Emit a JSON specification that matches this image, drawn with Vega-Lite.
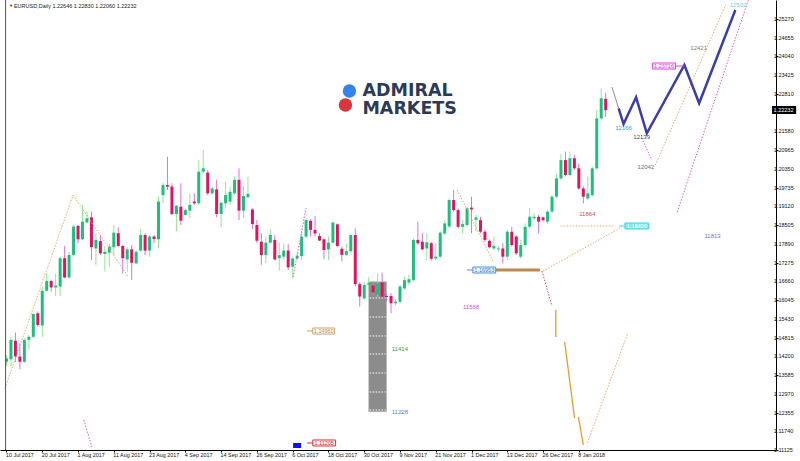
{
 "$schema": "https://vega.github.io/schema/vega-lite/v6.json",
 "width": 776,
 "height": 450,
 "autosize": {"type": "none"},
 "padding": {"left": 0, "top": 0, "right": 24, "bottom": 11},
 "background": "#ffffff",
 "config": {"view": {"stroke": null}, "axis": {"grid": false, "labelFont": "Liberation Sans", "title": null, "labelOverlap": false, "labelBound": false, "labelFlush": false}, "text": {"font": "Liberation Sans"}},
 "resolve": {"scale": {"color": "independent", "fill": "independent", "stroke": "independent"}},
 "datasets": {
  "candles": [
   {"i":0,"o":1.1402,"h":1.1424,"l":1.1388,"c":1.1413},
   {"i":1,"o":1.1410,"h":1.1484,"l":1.1388,"c":1.1474},
   {"i":2,"o":1.1471,"h":1.1498,"l":1.1402,"c":1.1419},
   {"i":3,"o":1.1419,"h":1.1463,"l":1.1377,"c":1.1402},
   {"i":4,"o":1.1402,"h":1.1479,"l":1.1399,"c":1.1474},
   {"i":5,"o":1.1474,"h":1.1490,"l":1.1441,"c":1.1484},
   {"i":6,"o":1.1484,"h":1.1561,"l":1.1479,"c":1.1559},
   {"i":7,"o":1.1561,"h":1.1567,"l":1.1517,"c":1.1523},
   {"i":8,"o":1.1521,"h":1.1649,"l":1.1484,"c":1.1635},
   {"i":9,"o":1.1635,"h":1.1692,"l":1.1632,"c":1.1667},
   {"i":10,"o":1.1667,"h":1.1670,"l":1.1632,"c":1.1646},
   {"i":11,"o":1.1646,"h":1.1692,"l":1.1618,"c":1.1652},
   {"i":12,"o":1.1649,"h":1.1747,"l":1.1618,"c":1.1742},
   {"i":13,"o":1.1742,"h":1.1782,"l":1.1676,"c":1.1679},
   {"i":14,"o":1.1679,"h":1.1763,"l":1.1673,"c":1.1753},
   {"i":15,"o":1.1753,"h":1.1851,"l":1.1747,"c":1.1846},
   {"i":16,"o":1.1848,"h":1.1851,"l":1.1791,"c":1.1804},
   {"i":17,"o":1.1804,"h":1.1917,"l":1.1802,"c":1.1862},
   {"i":18,"o":1.1859,"h":1.1895,"l":1.1856,"c":1.1873},
   {"i":19,"o":1.1876,"h":1.1895,"l":1.1736,"c":1.1778},
   {"i":20,"o":1.1774,"h":1.1824,"l":1.1720,"c":1.1802},
   {"i":21,"o":1.1798,"h":1.1818,"l":1.1752,"c":1.1758},
   {"i":22,"o":1.1756,"h":1.1782,"l":1.1698,"c":1.1763},
   {"i":23,"o":1.1760,"h":1.1789,"l":1.1714,"c":1.1780},
   {"i":24,"o":1.1778,"h":1.1851,"l":1.1752,"c":1.1826},
   {"i":25,"o":1.1824,"h":1.1843,"l":1.1780,"c":1.1782},
   {"i":26,"o":1.1782,"h":1.1785,"l":1.1692,"c":1.1742},
   {"i":27,"o":1.1738,"h":1.1778,"l":1.1698,"c":1.1771},
   {"i":28,"o":1.1771,"h":1.1785,"l":1.1670,"c":1.1727},
   {"i":29,"o":1.1725,"h":1.1769,"l":1.1723,"c":1.1763},
   {"i":30,"o":1.1767,"h":1.1837,"l":1.1763,"c":1.1818},
   {"i":31,"o":1.1818,"h":1.1824,"l":1.1752,"c":1.1767},
   {"i":32,"o":1.1767,"h":1.1818,"l":1.1747,"c":1.1813},
   {"i":33,"o":1.1813,"h":1.1818,"l":1.1791,"c":1.1805},
   {"i":34,"o":1.1804,"h":1.1944,"l":1.1774,"c":1.1928},
   {"i":35,"o":1.1949,"h":1.1988,"l":1.1922,"c":1.1982},
   {"i":36,"o":1.1982,"h":1.2075,"l":1.1966,"c":1.1977},
   {"i":37,"o":1.1977,"h":1.1988,"l":1.1884,"c":1.1887},
   {"i":38,"o":1.1887,"h":1.1917,"l":1.1829,"c":1.1914},
   {"i":39,"o":1.1911,"h":1.1988,"l":1.1851,"c":1.1865},
   {"i":40,"o":1.1884,"h":1.1906,"l":1.1882,"c":1.1900},
   {"i":41,"o":1.1898,"h":1.1955,"l":1.1873,"c":1.1917},
   {"i":42,"o":1.1928,"h":1.1955,"l":1.1917,"c":1.1922},
   {"i":43,"o":1.1922,"h":1.2064,"l":1.1917,"c":1.2026},
   {"i":44,"o":1.2026,"h":1.2097,"l":1.2020,"c":1.2037},
   {"i":45,"o":1.2023,"h":1.2031,"l":1.1949,"c":1.1955},
   {"i":46,"o":1.1955,"h":1.1977,"l":1.1949,"c":1.1971},
   {"i":47,"o":1.1968,"h":1.1999,"l":1.1876,"c":1.1887},
   {"i":48,"o":1.1887,"h":1.1928,"l":1.1843,"c":1.1924},
   {"i":49,"o":1.1922,"h":1.1993,"l":1.1906,"c":1.1949},
   {"i":50,"o":1.1928,"h":1.1977,"l":1.1917,"c":1.1960},
   {"i":51,"o":1.1955,"h":1.2010,"l":1.1949,"c":1.1999},
   {"i":52,"o":1.1999,"h":1.2037,"l":1.1867,"c":1.1898},
   {"i":53,"o":1.1898,"h":1.1977,"l":1.1873,"c":1.1946},
   {"i":54,"o":1.1942,"h":1.2010,"l":1.1940,"c":1.1953},
   {"i":55,"o":1.1902,"h":1.1906,"l":1.1837,"c":1.1854},
   {"i":56,"o":1.1851,"h":1.1867,"l":1.1791,"c":1.1799},
   {"i":57,"o":1.1796,"h":1.1824,"l":1.1720,"c":1.1752},
   {"i":58,"o":1.1752,"h":1.1813,"l":1.1725,"c":1.1793},
   {"i":59,"o":1.1793,"h":1.1837,"l":1.1789,"c":1.1818},
   {"i":60,"o":1.1802,"h":1.1818,"l":1.1734,"c":1.1738},
   {"i":61,"o":1.1742,"h":1.1793,"l":1.1701,"c":1.1752},
   {"i":62,"o":1.1747,"h":1.1791,"l":1.1738,"c":1.1767},
   {"i":63,"o":1.1767,"h":1.1789,"l":1.1703,"c":1.1712},
   {"i":64,"o":1.1714,"h":1.1747,"l":1.1676,"c":1.1741},
   {"i":65,"o":1.1741,"h":1.1760,"l":1.1735,"c":1.1749},
   {"i":66,"o":1.1749,"h":1.1826,"l":1.1736,"c":1.1813},
   {"i":67,"o":1.1813,"h":1.1873,"l":1.1807,"c":1.1867},
   {"i":68,"o":1.1865,"h":1.1870,"l":1.1813,"c":1.1835},
   {"i":69,"o":1.1835,"h":1.1880,"l":1.1813,"c":1.1823},
   {"i":70,"o":1.1815,"h":1.1824,"l":1.1798,"c":1.1800},
   {"i":71,"o":1.1804,"h":1.1807,"l":1.1739,"c":1.1769},
   {"i":72,"o":1.1771,"h":1.1813,"l":1.1736,"c":1.1793},
   {"i":73,"o":1.1793,"h":1.1862,"l":1.1791,"c":1.1859},
   {"i":74,"o":1.1853,"h":1.1856,"l":1.1778,"c":1.1782},
   {"i":75,"o":1.1773,"h":1.1780,"l":1.1731,"c":1.1753},
   {"i":76,"o":1.1753,"h":1.1791,"l":1.1749,"c":1.1765},
   {"i":77,"o":1.1765,"h":1.1821,"l":1.1758,"c":1.1818},
   {"i":78,"o":1.1818,"h":1.1840,"l":1.1649,"c":1.1657},
   {"i":79,"o":1.1657,"h":1.1662,"l":1.1583,"c":1.1616},
   {"i":80,"o":1.1610,"h":1.1665,"l":1.1605,"c":1.1654},
   {"i":81,"o":1.1655,"h":1.1680,"l":1.1640,"c":1.1660},
   {"i":82,"o":1.1652,"h":1.1665,"l":1.1620,"c":1.1630},
   {"i":83,"o":1.1622,"h":1.1692,"l":1.1615,"c":1.1659},
   {"i":84,"o":1.1662,"h":1.1695,"l":1.1610,"c":1.1616},
   {"i":85,"o":1.1618,"h":1.1625,"l":1.1600,"c":1.1615},
   {"i":86,"o":1.1618,"h":1.1627,"l":1.1561,"c":1.1594},
   {"i":87,"o":1.1594,"h":1.1607,"l":1.1588,"c":1.1599},
   {"i":88,"o":1.1599,"h":1.1654,"l":1.1594,"c":1.1649},
   {"i":89,"o":1.1643,"h":1.1681,"l":1.1638,"c":1.1670},
   {"i":90,"o":1.1662,"h":1.1687,"l":1.1654,"c":1.1673},
   {"i":91,"o":1.1670,"h":1.1807,"l":1.1665,"c":1.1802},
   {"i":92,"o":1.1802,"h":1.1862,"l":1.1785,"c":1.1791},
   {"i":93,"o":1.1796,"h":1.1824,"l":1.1769,"c":1.1771},
   {"i":94,"o":1.1774,"h":1.1824,"l":1.1736,"c":1.1794},
   {"i":95,"o":1.1791,"h":1.1796,"l":1.1734,"c":1.1740},
   {"i":96,"o":1.1741,"h":1.1791,"l":1.1736,"c":1.1747},
   {"i":97,"o":1.1747,"h":1.1829,"l":1.1741,"c":1.1826},
   {"i":98,"o":1.1823,"h":1.1867,"l":1.1818,"c":1.1856},
   {"i":99,"o":1.1846,"h":1.1938,"l":1.1840,"c":1.1933},
   {"i":100,"o":1.1933,"h":1.1966,"l":1.1895,"c":1.1900},
   {"i":101,"o":1.1900,"h":1.1906,"l":1.1840,"c":1.1845},
   {"i":102,"o":1.1845,"h":1.1867,"l":1.1824,"c":1.1854},
   {"i":103,"o":1.1851,"h":1.1911,"l":1.1845,"c":1.1906},
   {"i":104,"o":1.1908,"h":1.1944,"l":1.1824,"c":1.1902},
   {"i":105,"o":1.1868,"h":1.1884,"l":1.1829,"c":1.1876},
   {"i":106,"o":1.1867,"h":1.1878,"l":1.1824,"c":1.1829},
   {"i":107,"o":1.1829,"h":1.1835,"l":1.1796,"c":1.1802},
   {"i":108,"o":1.1799,"h":1.1804,"l":1.1774,"c":1.1778},
   {"i":109,"o":1.1774,"h":1.1813,"l":1.1769,"c":1.1782},
   {"i":110,"o":1.1771,"h":1.1782,"l":1.1763,"c":1.1774},
   {"i":111,"o":1.1774,"h":1.1791,"l":1.1725,"c":1.1747},
   {"i":112,"o":1.1747,"h":1.1835,"l":1.1736,"c":1.1829},
   {"i":113,"o":1.1829,"h":1.1845,"l":1.1780,"c":1.1785},
   {"i":114,"o":1.1813,"h":1.1818,"l":1.1752,"c":1.1758},
   {"i":115,"o":1.1747,"h":1.1802,"l":1.1741,"c":1.1785},
   {"i":116,"o":1.1785,"h":1.1856,"l":1.1780,"c":1.1845},
   {"i":117,"o":1.1845,"h":1.1906,"l":1.1840,"c":1.1878},
   {"i":118,"o":1.1873,"h":1.1889,"l":1.1867,"c":1.1878},
   {"i":119,"o":1.1878,"h":1.1884,"l":1.1824,"c":1.1862},
   {"i":120,"o":1.1876,"h":1.1878,"l":1.1862,"c":1.1867},
   {"i":121,"o":1.1862,"h":1.1900,"l":1.1856,"c":1.1895},
   {"i":122,"o":1.1895,"h":1.1949,"l":1.1889,"c":1.1944},
   {"i":123,"o":1.1944,"h":1.2020,"l":1.1938,"c":1.2004},
   {"i":124,"o":1.2004,"h":1.2084,"l":1.1999,"c":1.2064},
   {"i":125,"o":1.2064,"h":1.2092,"l":1.2010,"c":1.2015},
   {"i":126,"o":1.2015,"h":1.2092,"l":1.2010,"c":1.2070},
   {"i":127,"o":1.2070,"h":1.2081,"l":1.2032,"c":1.2037},
   {"i":128,"o":1.2037,"h":1.2053,"l":1.1966,"c":1.1971},
   {"i":129,"o":1.1971,"h":1.1977,"l":1.1922,"c":1.1944},
   {"i":130,"o":1.1938,"h":1.2010,"l":1.1933,"c":1.1955},
   {"i":131,"o":1.1949,"h":1.2042,"l":1.1944,"c":1.2037},
   {"i":132,"o":1.2037,"h":1.2228,"l":1.2032,"c":1.2201},
   {"i":133,"o":1.2201,"h":1.2299,"l":1.2196,"c":1.2267},
   {"i":134,"o":1.2265,"h":1.2285,"l":1.2206,"c":1.2228}
  ],
  "yLevels": [{"p":1.11125},{"p":1.1174},{"p":1.12355},{"p":1.1297},{"p":1.13585},{"p":1.142},{"p":1.14815},{"p":1.1543},{"p":1.16045},{"p":1.1666},{"p":1.17275},{"p":1.1789},{"p":1.18505},{"p":1.1912},{"p":1.19735},{"p":1.2035},{"p":1.20965},{"p":1.2158},{"p":1.2281},{"p":1.23425},{"p":1.2404},{"p":1.24655},{"p":1.2527}],
  "zone": [{"i1":81.0,"i2":85.0,"p1":1.16649,"p2":1.12383}],
  "zoneLevels": [{"p":1.16114},{"p":1.15490},{"p":1.14867},{"p":1.14276},{"p":1.13652},{"p":1.13029},{"p":1.12438}],
  "orangeDotted": [
   {"s":"o1","n":0,"i":-0.33,"p":1.1316},{"s":"o1","n":1,"i":14.9,"p":1.1949},
   {"s":"o2","n":0,"i":14.9,"p":1.1949},{"s":"o2","n":1,"i":27.3,"p":1.1680},
   {"s":"o3","n":0,"i":100.8,"p":1.19658},{"s":"o3","n":1,"i":108.9,"p":1.17295},
   {"s":"o4","n":0,"i":123.95,"p":1.18477},{"s":"o4","n":1,"i":135.65,"p":1.18477},
   {"s":"o5","n":0,"i":120.0,"p":1.16998},{"s":"o5","n":1,"i":137.6,"p":1.18444},
   {"s":"o6","n":0,"i":129.9,"p":1.11355},{"s":"o6","n":1,"i":138.96,"p":1.14965},
   {"s":"o7","n":0,"i":145.1,"p":1.20479},{"s":"o7","n":1,"i":160.8,"p":1.2573}
  ],
  "magentaDotted": [
   {"s":"m1","n":0,"i":150.0,"p":1.18936},{"s":"m1","n":1,"i":165.9,"p":1.25894},
   {"s":"m2","n":0,"i":142.05,"p":1.21365},{"s":"m2","n":1,"i":144.3,"p":1.20643},
   {"s":"m3","n":0,"i":64.1,"p":1.16803},{"s":"m3","n":1,"i":67.0,"p":1.19068},
   {"s":"m4","n":0,"i":17.3,"p":1.1211},{"s":"m4","n":1,"i":19.1,"p":1.11224}
  ],
  "redDotted": [{"s":"r1","n":0,"i":119.76,"p":1.16998},{"s":"r1","n":1,"i":121.97,"p":1.15851}],
  "orangeSolid": [
   {"s":"s1","n":0,"i":122.85,"p":1.1572},{"s":"s1","n":1,"i":122.86,"p":1.14834},
   {"s":"s2","n":0,"i":124.83,"p":1.1467},{"s":"s2","n":1,"i":127.04,"p":1.12176},
   {"s":"s3","n":0,"i":127.9,"p":1.12209},{"s":"s3","n":1,"i":129.0,"p":1.1129}
  ],
  "brownBar": [{"n":0,"i":109.4,"p":1.17033},{"n":1,"i":119.3,"p":1.17033}],
  "lead": [{"n":0,"i":135.4,"p":1.2304},{"n":1,"i":136.9,"p":1.2234}],
  "projection": [
   {"n":0,"i":136.9,"p":1.2234},{"n":1,"i":138.0,"p":1.21824},{"n":2,"i":140.8,"p":1.22701},
   {"n":3,"i":143.2,"p":1.21519},{"n":4,"i":151.6,"p":1.23761},{"n":5,"i":154.9,"p":1.22504},{"n":6,"i":163.0,"p":1.25566}
  ],
  "tags": [
   {"t":"1.16953","k":"blue","i1":104.3,"i2":109.4,"p1":1.17131,"p2":1.16934,"ic":106.85,"pc":1.17033,"ca":103.0},
   {"t":"1.14960","k":"tan","i1":68.5,"i2":73.4,"p1":1.15129,"p2":1.14932,"ic":70.95,"pc":1.15031,"ca":67.2},
   {"t":"1.11205","k":"red","i1":68.5,"i2":73.6,"p1":1.11454,"p2":1.11257,"ic":71.05,"pc":1.11355,"ca":67.2},
   {"t":"1.18420","k":"cyan","i1":138.3,"i2":143.6,"p1":1.18575,"p2":1.18378,"ic":140.95,"pc":1.18477,"ca":137.0},
   {"t":"1.23716","k":"magenta","i1":144.5,"i2":149.6,"p1":1.23826,"p2":1.23629,"ic":147.05,"pc":1.23727,"ca":151.6}
  ],
  "nums": [
   {"t":"11864","i":129.9,"p":1.18861},
   {"t":"11813","i":157.9,"p":1.18158},
   {"t":"11568","i":103.9,"p":1.15828},
   {"t":"11414","i":87.97,"p":1.1444},
   {"t":"11228","i":87.97,"p":1.12363},
   {"t":"12166","i":138.0,"p":1.21683},
   {"t":"12139","i":142.05,"p":1.21408},
   {"t":"12042","i":143.0,"p":1.20423},
   {"t":"12421","i":154.8,"p":1.24329},
   {"t":"12502","i":163.6,"p":1.2573}
  ],
  "marker": [{"i1":64.1,"i2":65.9,"p1":1.11355,"p2":1.11191}],
  "logoDots": [{"k":"blue","i":76.7,"p":1.2291},{"k":"red","i":75.8,"p":1.2245}],
  "logoText": [{"i":79.6,"p":1.22727}],
  "header": [{"t":"EURUSD,Daily  1.22646 1.22830 1.22060 1.22232","i":1.66,"p":1.25697}],
  "headerMark": [{"t":"▼","i":0.55,"p":1.25697}],
  "price": [{"t":"1.22232","i1":171.2,"i2":176.6,"p1":1.22415,"p2":1.22153,"i":171.55,"p":1.22284}],
  "frame": [{"i":-0.2}]
 },
 "layer": [
  {
   "data": {"name": "zone"},
   "mark": {"type": "rect", "fill": "#8c8c8c", "stroke": "#b8b8b8", "strokeWidth": 0.6},
   "encoding": {
    "x": {"field": "i1", "type": "quantitative", "scale": {"domain": [-0.331, 170.97], "nice": false, "zero": false},
     "axis": {"orient": "bottom", "title": null, "values": [0,8,16,24,32,40,48,56,64,72,80,88,96,104,112,120,128],
      "labelExpr": "['10 Jul 2017','20 Jul 2017','1 Aug 2017','11 Aug 2017','23 Aug 2017','4 Sep 2017','14 Sep 2017','26 Sep 2017','6 Oct 2017','18 Oct 2017','30 Oct 2017','9 Nov 2017','21 Nov 2017','1 Dec 2017','13 Dec 2017','26 Dec 2017','8 Jan 2018'][round(datum.value/8)]",
      "domainColor": "#000000", "domainWidth": 1, "tickColor": "#000000", "tickSize": 2, "labelFontSize": 5.4, "labelColor": "#111111",
      "labelAlign": "left", "labelBaseline": "top", "labelPadding": 0.5, "labelOffset": -1, "labelFlush": false, "labelOverlap": false, "labelBound": false}},
    "x2": {"field": "i2"},
    "y": {"field": "p1", "type": "quantitative", "scale": {"domain": [1.11125, 1.25894], "nice": false, "zero": false},
     "axis": {"orient": "right", "title": null, "labels": false,
      "values": [1.11125,1.1174,1.12355,1.1297,1.13585,1.142,1.14815,1.1543,1.16045,1.1666,1.17275,1.1789,1.18505,1.1912,1.19735,1.2035,1.20965,1.2158,1.2281,1.23425,1.2404,1.24655,1.2527],
      "domainColor": "#000000", "domainWidth": 1, "tickColor": "#000000", "tickSize": 2}},
    "y2": {"field": "p2"}
   }
  },
  {
   "data": {"name": "yLevels"},
   "mark": {"type": "text", "fontSize": 5.5, "align": "left", "baseline": "middle", "color": "#111111"},
   "encoding": {"x": {"datum": 171.6, "type": "quantitative"}, "y": {"field": "p", "type": "quantitative"}, "text": {"field": "p", "type": "quantitative", "format": ".5f"}}
  },
  {
   "data": {"name": "zoneLevels"},
   "mark": {"type": "rule", "color": "#ffffff", "strokeWidth": 1, "strokeDash": [1.5, 1.5]},
   "encoding": {"x": {"datum": 81.2, "type": "quantitative"}, "x2": {"datum": 84.8}, "y": {"field": "p", "type": "quantitative"}}
  },
  {
   "data": {"name": "candles"},
   "mark": {"type": "rule", "strokeWidth": 1},
   "encoding": {
    "x": {"field": "i", "type": "quantitative"},
    "y": {"field": "l", "type": "quantitative"},
    "y2": {"field": "h"},
    "color": {"condition": {"test": "datum.c >= datum.o", "value": "#90e890"}, "value": "#de70e2"}
   }
  },
  {
   "data": {"name": "candles"},
   "mark": {"type": "bar", "width": 3},
   "encoding": {
    "x": {"field": "i", "type": "quantitative"},
    "y": {"field": "o", "type": "quantitative"},
    "y2": {"field": "c"},
    "color": {"condition": {"test": "datum.c >= datum.o", "value": "#1cc07e"}, "value": "#e3125c"}
   }
  },
  {
   "data": {"name": "orangeDotted"},
   "mark": {"type": "line", "color": "#eea868", "strokeWidth": 1, "strokeDash": [1.5, 1.5]},
   "encoding": {"x": {"field": "i", "type": "quantitative"}, "y": {"field": "p", "type": "quantitative"}, "detail": {"field": "s"}, "order": {"field": "n"}}
  },
  {
   "data": {"name": "magentaDotted"},
   "mark": {"type": "line", "color": "#d45ae0", "strokeWidth": 1, "strokeDash": [1.5, 1.5]},
   "encoding": {"x": {"field": "i", "type": "quantitative"}, "y": {"field": "p", "type": "quantitative"}, "detail": {"field": "s"}, "order": {"field": "n"}}
  },
  {
   "data": {"name": "redDotted"},
   "mark": {"type": "line", "color": "#e05050", "strokeWidth": 1, "strokeDash": [1.5, 1.5]},
   "encoding": {"x": {"field": "i", "type": "quantitative"}, "y": {"field": "p", "type": "quantitative"}, "detail": {"field": "s"}, "order": {"field": "n"}}
  },
  {
   "data": {"name": "orangeSolid"},
   "mark": {"type": "line", "color": "#eb9a2a", "strokeWidth": 1.3},
   "encoding": {"x": {"field": "i", "type": "quantitative"}, "y": {"field": "p", "type": "quantitative"}, "detail": {"field": "s"}, "order": {"field": "n"}}
  },
  {
   "data": {"name": "brownBar"},
   "mark": {"type": "line", "color": "#c08848", "strokeWidth": 3},
   "encoding": {"x": {"field": "i", "type": "quantitative"}, "y": {"field": "p", "type": "quantitative"}, "order": {"field": "n"}}
  },
  {
   "data": {"name": "lead"},
   "mark": {"type": "line", "color": "#909090", "strokeWidth": 1},
   "encoding": {"x": {"field": "i", "type": "quantitative"}, "y": {"field": "p", "type": "quantitative"}, "order": {"field": "n"}}
  },
  {
   "data": {"name": "projection"},
   "mark": {"type": "line", "color": "#3d3da8", "strokeWidth": 2.5},
   "encoding": {"x": {"field": "i", "type": "quantitative"}, "y": {"field": "p", "type": "quantitative"}, "order": {"field": "n"}}
  },
  {
   "data": {"name": "tags"},
   "mark": {"type": "rule", "strokeWidth": 1},
   "encoding": {
    "x": {"field": "ca", "type": "quantitative"}, "x2": {"field": "ic"},
    "y": {"field": "pc", "type": "quantitative"},
    "color": {"field": "k", "type": "nominal", "legend": null, "scale": {"domain": ["blue","tan","red","cyan","magenta"], "range": ["#4a90e2","#d0a070","#e03030","#40d8e0","#e040e0"]}}
   }
  },
  {
   "data": {"name": "tags"},
   "mark": {"type": "rect", "strokeWidth": 1},
   "encoding": {
    "x": {"field": "i1", "type": "quantitative"}, "x2": {"field": "i2"},
    "y": {"field": "p1", "type": "quantitative"}, "y2": {"field": "p2"},
    "fill": {"field": "k", "type": "nominal", "legend": null, "scale": {"domain": ["blue","tan","red","cyan","magenta"], "range": ["#eef6ff","#ffffff","#fff4f4","#7eecf0","#fff0ff"]}},
    "stroke": {"field": "k", "type": "nominal", "legend": null, "scale": {"domain": ["blue","tan","red","cyan","magenta"], "range": ["#4a90e2","#d0a070","#e03030","#40d8e0","#e040e0"]}}
   }
  },
  {
   "data": {"name": "tags"},
   "mark": {"type": "text", "fontSize": 5.5, "align": "center", "baseline": "middle"},
   "encoding": {
    "x": {"field": "ic", "type": "quantitative"},
    "y": {"field": "pc", "type": "quantitative"},
    "text": {"field": "t"},
    "color": {"field": "k", "type": "nominal", "legend": null, "scale": {"domain": ["blue","tan","red","cyan","magenta"], "range": ["#3a7bd5","#c08848","#e03030","#ffffff","#e040e0"]}}
   }
  },
  {
   "data": {"name": "nums"},
   "mark": {"type": "text", "fontSize": 6, "align": "center", "baseline": "middle"},
   "encoding": {
    "x": {"field": "i", "type": "quantitative"},
    "y": {"field": "p", "type": "quantitative"},
    "text": {"field": "t"},
    "color": {"field": "t", "type": "nominal", "legend": null, "scale": {"domain": ["11864","11813","11568","11414","11228","12166","12139","12042","12421","12502"], "range": ["#e04848","#6a78c8","#d848d8","#3c9a3c","#5a80d8","#3a9ae8","#505050","#707070","#808080","#70d0e0"]}}
   }
  },
  {
   "data": {"name": "marker"},
   "mark": {"type": "rect", "fill": "#1010f0"},
   "encoding": {"x": {"field": "i1", "type": "quantitative"}, "x2": {"field": "i2"}, "y": {"field": "p1", "type": "quantitative"}, "y2": {"field": "p2"}}
  },
  {
   "data": {"name": "logoDots"},
   "mark": {"type": "point", "filled": true, "size": 180, "opacity": 1},
   "encoding": {
    "x": {"field": "i", "type": "quantitative"},
    "y": {"field": "p", "type": "quantitative"},
    "color": {"field": "k", "type": "nominal", "legend": null, "scale": {"domain": ["blue","red"], "range": ["#3584ee","#d9363e"]}}
   }
  },
  {
   "data": {"name": "logoText"},
   "mark": {"type": "text", "text": ["ADMIRAL", "MARKETS"], "lineHeight": 17.5, "font": "DejaVu Sans", "fontWeight": "bold", "fontSize": 17.5, "align": "left", "baseline": "alphabetic", "color": "#2c3a57"},
   "encoding": {"x": {"field": "i", "type": "quantitative"}, "y": {"field": "p", "type": "quantitative"}}
  },
  {
   "data": {"name": "header"},
   "mark": {"type": "text", "fontSize": 5.5, "align": "left", "baseline": "middle", "color": "#222222"},
   "encoding": {"x": {"field": "i", "type": "quantitative"}, "y": {"field": "p", "type": "quantitative"}, "text": {"field": "t"}}
  },
  {
   "data": {"name": "headerMark"},
   "mark": {"type": "text", "fontSize": 4, "align": "left", "baseline": "middle", "color": "#222222"},
   "encoding": {"x": {"field": "i", "type": "quantitative"}, "y": {"field": "p", "type": "quantitative"}, "text": {"field": "t"}}
  },
  {
   "data": {"name": "frame"},
   "mark": {"type": "rule", "color": "#555555", "strokeWidth": 1},
   "encoding": {"x": {"field": "i", "type": "quantitative"}}
  },
  {
   "data": {"name": "price"},
   "mark": {"type": "rect", "fill": "#000000"},
   "encoding": {"x": {"field": "i1", "type": "quantitative"}, "x2": {"field": "i2"}, "y": {"field": "p1", "type": "quantitative"}, "y2": {"field": "p2"}}
  },
  {
   "data": {"name": "price"},
   "mark": {"type": "text", "fontSize": 5.5, "align": "left", "baseline": "middle", "color": "#ffffff"},
   "encoding": {"x": {"field": "i", "type": "quantitative"}, "y": {"field": "p", "type": "quantitative"}, "text": {"field": "t"}}
  }
 ]
}
